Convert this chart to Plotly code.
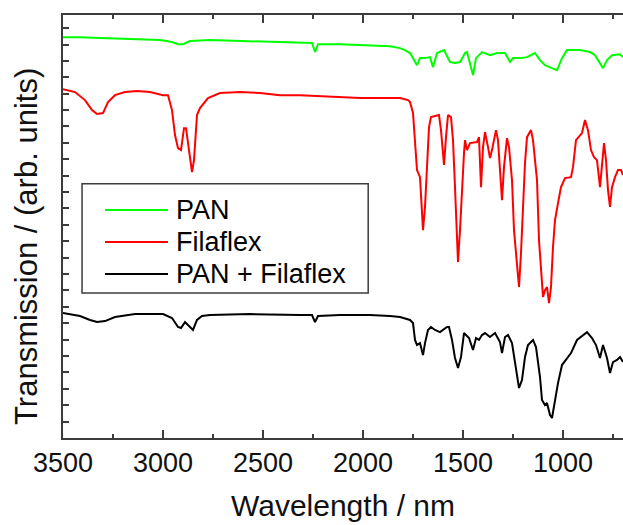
import plotly.graph_objects as go

# ---- data (wavenumber axis labelled as in the original figure) ----
pan_x = [3500, 3415, 3315, 3165, 3015, 2955, 2925, 2900, 2865, 2765, 2565, 2415, 2315, 2255, 2240, 2225,
         2115, 1965, 1865, 1815, 1790, 1765, 1740, 1730, 1715, 1690, 1665, 1650, 1630, 1595, 1565, 1540,
         1515, 1490, 1480, 1465, 1450, 1435, 1405, 1365, 1330, 1290, 1265, 1250, 1215, 1180, 1140, 1115,
         1090, 1055, 1030, 1005, 980, 915, 865, 840, 815, 800, 780, 755, 715, 700]
pan_y = [24.45, 24.45, 24.39, 24.33, 24.27, 24.15, 24.02, 24.02, 24.21, 24.27, 24.21, 24.15, 24.09, 24.09, 23.54, 24.02,
         24.02, 23.96, 23.90, 23.78, 23.66, 23.48, 22.93, 22.74, 23.17, 23.17, 23.23, 22.62, 23.48, 23.66, 22.93, 22.87,
         22.93, 23.48, 23.54, 22.74, 22.13, 23.17, 23.54, 23.35, 23.48, 23.48, 22.93, 23.17, 23.17, 23.23, 23.48, 23.05,
         22.74, 22.56, 22.44, 23.17, 23.66, 23.66, 23.54, 23.35, 22.87, 22.56, 23.05, 23.35, 23.41, 23.23]

fil_x = [3500, 3440, 3390, 3355, 3330, 3300, 3275, 3240, 3190, 3130, 3065, 3000, 2975, 2955, 2940, 2925,
         2910, 2895, 2885, 2870, 2855, 2845, 2830, 2815, 2800, 2775, 2715, 2615, 2515, 2415, 2315, 2215,
         2115, 2015, 1865, 1815, 1775, 1765, 1750, 1740, 1730, 1715, 1705, 1700, 1690, 1680, 1670, 1660,
         1630, 1620, 1610, 1600, 1595, 1585, 1575, 1560, 1550, 1540, 1530, 1525, 1515, 1505, 1495, 1490,
         1480, 1465, 1430, 1420, 1415, 1410, 1400, 1390, 1375, 1365, 1355, 1335, 1325, 1315, 1305, 1295,
         1280, 1270, 1255, 1245, 1230, 1220, 1210, 1200, 1190, 1180, 1160, 1150, 1130, 1120, 1110, 1100,
         1090, 1080, 1070, 1060, 1050, 1040, 1025, 1010, 990, 960, 950, 935, 905, 890, 875, 860,
         845, 830, 815, 805, 795, 785, 775, 765, 755, 740, 725, 710, 700]
fil_y = [21.28, 21.10, 20.61, 20.00, 19.76, 19.82, 20.49, 20.91, 21.10, 21.16, 21.10, 20.91, 20.91, 20.00, 18.48, 17.68,
         17.56, 18.90, 18.90, 17.56, 16.22, 16.95, 19.70, 20.12, 20.37, 20.73, 21.04, 21.10, 21.04, 20.91, 20.91, 20.85,
         20.79, 20.73, 20.73, 20.73, 20.61, 20.49, 19.82, 17.74, 16.34, 15.91, 14.09, 12.68, 14.09, 16.77, 18.96, 19.57,
         19.70, 19.70, 18.78, 17.56, 16.65, 18.35, 19.70, 19.57, 18.17, 15.30, 12.68, 10.73, 12.68, 15.30, 17.38, 18.17,
         17.56, 17.99, 18.05, 18.35, 16.77, 15.30, 17.74, 18.66, 17.74, 17.07, 17.56, 18.78, 18.17, 16.34, 14.51, 16.52,
         18.29, 17.74, 15.73, 12.68, 10.85, 9.21, 11.28, 14.09, 16.77, 18.35, 18.78, 18.17, 15.73, 12.07, 10.06, 8.60,
         9.02, 9.21, 8.23, 9.21, 11.65, 13.29, 14.33, 15.30, 15.85, 15.91, 16.52, 18.17, 18.60, 19.39, 18.78, 17.56,
         17.13, 16.95, 15.30, 16.77, 17.99, 16.95, 15.12, 14.09, 15.30, 15.91, 16.34, 16.34, 16.04]

mix_x = [3500, 3415, 3365, 3330, 3290, 3240, 3140, 3000, 2955, 2925, 2910, 2890, 2870, 2850, 2830, 2805,
         2765, 2565, 2315, 2255, 2240, 2225, 2115, 1965, 1865, 1815, 1765, 1750, 1740, 1730, 1715, 1700,
         1690, 1675, 1660, 1640, 1615, 1580, 1570, 1555, 1540, 1525, 1510, 1495, 1470, 1450, 1435, 1420,
         1405, 1390, 1365, 1340, 1315, 1305, 1290, 1275, 1255, 1240, 1220, 1205, 1190, 1175, 1150, 1135,
         1115, 1105, 1090, 1080, 1065, 1055, 1040, 1025, 1005, 980, 960, 930, 880, 855, 835, 815,
         800, 780, 765, 750, 730, 715, 700]
mix_y = [7.62, 7.44, 7.20, 7.07, 7.13, 7.38, 7.56, 7.56, 7.32, 6.77, 6.71, 7.07, 6.83, 6.59, 7.20, 7.44,
         7.50, 7.56, 7.50, 7.50, 7.07, 7.44, 7.50, 7.50, 7.44, 7.38, 7.20, 7.01, 5.98, 5.67, 5.79, 5.06,
         5.79, 6.59, 6.77, 6.59, 6.46, 6.77, 6.77, 5.98, 4.88, 4.27, 4.94, 6.40, 6.10, 5.37, 6.10, 5.98,
         6.28, 6.40, 6.16, 6.40, 5.85, 5.18, 6.16, 6.28, 5.79, 4.57, 3.05, 3.54, 4.94, 5.67, 5.98, 5.55,
         3.72, 2.32, 2.01, 2.13, 1.40, 1.22, 2.32, 3.35, 4.45, 4.88, 5.18, 5.98, 6.46, 6.10, 5.67, 4.88,
         5.67, 4.88, 3.96, 4.63, 4.76, 4.94, 4.63]

series_names = ["PAN", "Filaflex", "PAN + Filaflex"]
series_colors = ["#00ff00", "#ff0000", "#000000"]
series_x = [pan_x, fil_x, mix_x]
series_y = [pan_y, fil_y, mix_y]

FONT = "Arial, Liberation Sans, sans-serif"
AXIS_COLOR = "#3c3c3c"

fig = go.Figure()
for name, color, xs, ys in zip(series_names, series_colors, series_x, series_y):
    fig.add_trace(go.Scatter(x=xs, y=ys, mode="lines", name=name,
                             line=dict(color=color, width=2), showlegend=False))

# custom legend (longer line samples like the original)
leg_x0, leg_x1, leg_y0, leg_y1 = 0.034, 0.545, 0.343, 0.601
row_y = [0.539, 0.4634, 0.3877]
fig.add_shape(type="rect", xref="paper", yref="paper", x0=leg_x0, x1=leg_x1, y0=leg_y0, y1=leg_y1,
              line=dict(color=AXIS_COLOR, width=1.5), fillcolor="white", layer="above")
for name, color, ry in zip(series_names, series_colors, row_y):
    fig.add_shape(type="line", xref="paper", yref="paper", x0=0.075, x1=0.1875, y0=ry, y1=ry,
                  line=dict(color=color, width=2), layer="above")
    fig.add_annotation(xref="paper", yref="paper", x=0.198, y=ry, text=name, showarrow=False,
                       xanchor="left", yanchor="middle", font=dict(family=FONT, size=27, color="black"))

# y-axis title (placed slightly below the axis centre, as in the original)
fig.add_annotation(xref="paper", yref="paper", x=-0.064, y=0.452, text="Transmission / (arb. units)",
                   textangle=-90, showarrow=False, xanchor="center", yanchor="middle",
                   font=dict(family=FONT, size=31, color="#111"))

fig.update_layout(
    width=623, height=525,
    margin=dict(l=63, r=0, t=15, b=87, autoexpand=False),
    paper_bgcolor="white", plot_bgcolor="white",
    font=dict(family=FONT, size=27, color="black"),
    showlegend=False,
)
fig.update_xaxes(
    range=[3500, 700], showgrid=False, zeroline=False, automargin=False,
    showline=True, linecolor=AXIS_COLOR, linewidth=1.5, mirror="ticks",
    ticks="inside", ticklen=8, tickwidth=1.5, tickcolor=AXIS_COLOR,
    tick0=3500, dtick=500,
    minor=dict(ticks="inside", ticklen=4, tickwidth=1.5, tickcolor=AXIS_COLOR, dtick=250, tick0=3500, showgrid=False),
    tickfont=dict(family=FONT, size=27, color="#111"),
    title=dict(text="Wavelength / nm", font=dict(family=FONT, size=30, color="#111"), standoff=18),
)
fig.update_yaxes(
    range=[0, 25.8], showgrid=False, zeroline=False, automargin=False,
    showline=True, linecolor=AXIS_COLOR, linewidth=1.5, mirror=False,
    ticks="inside", ticklen=6, tickwidth=1.5, tickcolor=AXIS_COLOR,
    tick0=0, dtick=1, showticklabels=False,
)

fig.write_html("out.html", config={"displayModeBar": False},
               post_script="document.body.style.margin='0';")
